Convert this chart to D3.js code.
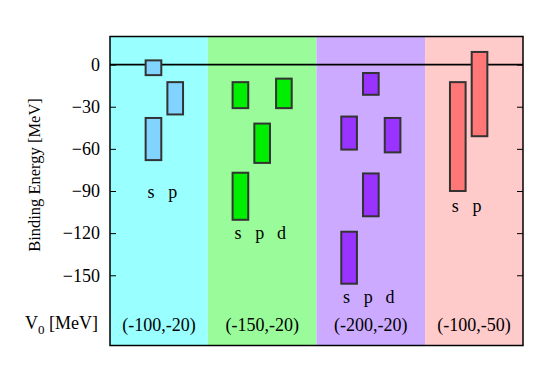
<!DOCTYPE html>
<html>
<head>
<meta charset="utf-8">
<script src="https://cdn.jsdelivr.net/npm/d3@7"></script>
<style>
  html, body { margin: 0; padding: 0; background: #fff; }
</style>
</head>
<body>
<svg id="chart" width="545" height="383"></svg>
<script>
// ---------------- data ----------------
const groupLabels = ["(-100,-20)", "(-150,-20)", "(-200,-20)", "(-100,-50)"];
const groupEdges = [0, 4.5, 9.5, 14.5, 19];          // x units (panel boundaries)
const groupFirstColumn = [2, 6, 11, 16];             // x unit of the "s" column
const orbitals = ["s", "p", "d"];
const groupOrbitalCount = [2, 3, 3, 2];

const bandGroup   = [0, 0, 0,   1, 1, 1, 1,   2, 2, 2, 2, 2,   3, 3];
const bandOrbital = ["s", "s", "p",   "s", "s", "p", "d",   "s", "s", "p", "p", "d",   "s", "p"];
const bandTop     = [3, -38, -12.5,   -12.5, -77, -42, -10,   -37, -119, -6, -77.5, -38,   -12.5, 9];
const bandBottom  = [-7.5, -68, -35.5,   -31, -110.5, -70, -31,   -60.5, -156, -21.5, -108, -62.5,   -90, -51];

const orbitalLabelLevel = [-92, -121, -167, -102];   // MeV where s/p/d labels sit
const yTicks = [0, -30, -60, -90, -120, -150];
const yDomain = [-200, 20];

// ---------------- styles ----------------
const FONT = '"Liberation Serif", "Times New Roman", serif';
const panelColors = ["#99ffff", "#99fb99", "#ccaaff", "#ffcaca"];
const barColors   = ["#80d4ff", "#00ee00", "#9933ff", "#ff7777"];

// ---------------- layout ----------------
const frame = { left: 110, right: 523, top: 36.5, bottom: 345.5 };

const svg = d3.select("#chart");
const x = d3.scaleLinear().domain([groupEdges[0], groupEdges[groupEdges.length - 1]]).range([frame.left, frame.right]);
const y = d3.scaleLinear().domain(yDomain).range([frame.bottom, frame.top]);

// panel backgrounds
svg.append("g").selectAll("rect")
  .data(groupLabels)
  .join("rect")
  .attr("x", (d, i) => x(groupEdges[i]))
  .attr("width", (d, i) => x(groupEdges[i + 1]) - x(groupEdges[i]))
  .attr("y", y(yDomain[1]))
  .attr("height", y(yDomain[0]) - y(yDomain[1]))
  .attr("fill", (d, i) => panelColors[i]);

// zero line
svg.append("line")
  .attr("x1", x.range()[0]).attr("x2", x.range()[1])
  .attr("y1", y(0)).attr("y2", y(0))
  .attr("stroke", "#000").attr("stroke-width", 1.6);

// bands
const barWidth = 0.72;
const bands = bandTop.map((t, i) => ({
  g: bandGroup[i], o: bandOrbital[i], top: t, bottom: bandBottom[i],
  xc: groupFirstColumn[bandGroup[i]] + orbitals.indexOf(bandOrbital[i])
}));
svg.append("g").selectAll("rect")
  .data(bands)
  .join("rect")
  .attr("x", d => x(d.xc - barWidth / 2))
  .attr("width", d => x(d.xc + barWidth / 2) - x(d.xc - barWidth / 2))
  .attr("y", d => y(d.top))
  .attr("height", d => y(d.bottom) - y(d.top))
  .attr("fill", d => barColors[d.g])
  .attr("stroke", "#333")
  .attr("stroke-width", 2);

// orbital labels
const orbLabels = [];
groupLabels.forEach((g, gi) => {
  for (let k = 0; k < groupOrbitalCount[gi]; k++) {
    orbLabels.push({ t: orbitals[k], xc: groupFirstColumn[gi] + k, lev: orbitalLabelLevel[gi] });
  }
});
svg.append("g").selectAll("text")
  .data(orbLabels)
  .join("text")
  .attr("x", d => x(d.xc) - 2.5)
  .attr("y", d => y(d.lev))
  .attr("dy", "0.23em")
  .attr("text-anchor", "middle")
  .style("font-family", FONT)
  .style("font-size", "18px")
  .attr("fill", "#000")
  .text(d => d.t);

// group labels
svg.append("g").selectAll("text")
  .data(groupLabels)
  .join("text")
  .attr("x", (d, i) => (x(groupEdges[i]) + x(groupEdges[i + 1])) / 2)
  .attr("y", frame.bottom - 15)
  .attr("text-anchor", "middle")
  .style("font-family", FONT)
  .style("font-size", "18px")
  .attr("fill", "#000")
  .text(d => d);

// axes
const yAxisL = d3.axisLeft(y).tickValues(yTicks).tickSize(-6).tickPadding(10).tickFormat(d3.format("d"));
const gL = svg.append("g").attr("transform", `translate(${frame.left},0)`).call(yAxisL);
gL.select(".domain").remove();
gL.selectAll("text").style("font-size", "18px").style("font-family", FONT).attr("fill", "#000");
gL.selectAll("line").attr("stroke", "#000");

const yAxisR = d3.axisRight(y).tickValues(yTicks).tickSize(-6).tickFormat("");
const gR = svg.append("g").attr("transform", `translate(${frame.right},0)`).call(yAxisR);
gR.select(".domain").remove();
gR.selectAll("line").attr("stroke", "#000");

// frame
svg.append("rect")
  .attr("x", frame.left).attr("y", frame.top)
  .attr("width", frame.right - frame.left).attr("height", frame.bottom - frame.top)
  .attr("fill", "none").attr("stroke", "#000").attr("stroke-width", 1.5);

// V0 label
const v0 = svg.append("text")
  .attr("x", frame.left - 12)
  .attr("y", frame.bottom - 17)
  .attr("text-anchor", "end")
  .style("font-family", FONT)
  .style("font-size", "18px")
  .attr("fill", "#000");
v0.append("tspan").text("V");
v0.append("tspan").style("font-size", "13px").attr("dy", 5).text("0");
v0.append("tspan").attr("dy", -5).text(" [MeV]");

// y title
svg.append("text")
  .attr("transform", `translate(40,${(frame.top + frame.bottom) / 2 - 16}) rotate(-90)`)
  .attr("text-anchor", "middle")
  .style("font-family", FONT)
  .style("font-size", "16.5px")
  .attr("fill", "#000")
  .text("Binding Energy [MeV]");
</script>
</body>
</html>
